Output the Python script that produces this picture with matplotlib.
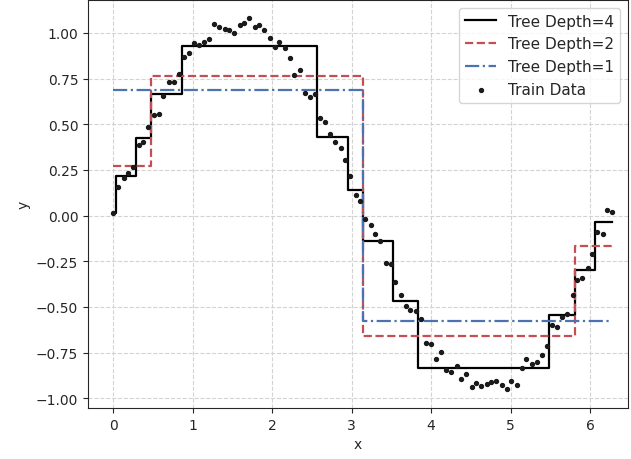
import numpy as np
import matplotlib
matplotlib.use('Agg')
import matplotlib.pyplot as plt

# train data (100 points over 0..2pi)
x_train = [0.00, 0.06, 0.13, 0.19, 0.25, 0.32, 0.38, 0.44, 0.51, 0.57,
           0.63, 0.70, 0.76, 0.83, 0.89, 0.95, 1.02, 1.08, 1.14, 1.21,
           1.27, 1.33, 1.40, 1.46, 1.52, 1.59, 1.65, 1.71, 1.78, 1.84,
           1.90, 1.97, 2.03, 2.09, 2.16, 2.22, 2.28, 2.35, 2.41, 2.48,
           2.54, 2.60, 2.67, 2.73, 2.79, 2.86, 2.92, 2.98, 3.05, 3.11,
           3.17, 3.24, 3.30, 3.36, 3.43, 3.49, 3.55, 3.62, 3.68, 3.74,
           3.81, 3.87, 3.93, 4.00, 4.06, 4.12, 4.19, 4.25, 4.32, 4.38,
           4.44, 4.51, 4.57, 4.63, 4.70, 4.76, 4.82, 4.89, 4.95, 5.01,
           5.08, 5.14, 5.20, 5.27, 5.33, 5.39, 5.46, 5.52, 5.58, 5.65,
           5.71, 5.78, 5.84, 5.90, 5.97, 6.03, 6.09, 6.16, 6.22, 6.28]

y_train = [0.013, 0.158, 0.208, 0.235, 0.268, 0.388, 0.404, 0.486, 0.550, 0.557,
           0.654, 0.729, 0.729, 0.774, 0.866, 0.889, 0.942, 0.933, 0.951, 0.969,
           1.049, 1.030, 1.024, 1.018, 1.000, 1.042, 1.053, 1.079, 1.030, 1.044,
           1.016, 0.971, 0.921, 0.951, 0.920, 0.860, 0.769, 0.798, 0.672, 0.649,
           0.663, 0.536, 0.514, 0.445, 0.404, 0.370, 0.304, 0.219, 0.115, 0.082,
           -0.018, -0.051, -0.098, -0.140, -0.260, -0.266, -0.362, -0.437, -0.497, -0.514,
           -0.521, -0.568, -0.696, -0.705, -0.783, -0.749, -0.847, -0.854, -0.821, -0.896,
           -0.867, -0.938, -0.914, -0.932, -0.920, -0.910, -0.903, -0.925, -0.951, -0.907,
           -0.925, -0.832, -0.787, -0.810, -0.801, -0.763, -0.714, -0.597, -0.608, -0.557,
           -0.536, -0.432, -0.355, -0.340, -0.286, -0.211, -0.091, -0.098, 0.033, 0.022]

# regression tree fits: split points and leaf values
depth4_splits = [0.03, 0.29, 0.48, 0.86, 2.57, 2.95, 3.14, 3.52, 3.84, 5.49, 5.81, 6.06]
depth4_values = [0.013, 0.217, 0.426, 0.665, 0.930, 0.429, 0.139, -0.139, -0.466,
                 -0.835, -0.546, -0.298, -0.034]
depth2_splits = [0.48, 3.14, 5.81]
depth2_values = [0.270, 0.764, -0.657, -0.166]
depth1_splits = [3.14]
depth1_values = [0.685, -0.579]

x_start, x_end = 0.0, 6.28


def step_xy(splits, values):
    xs = [x_start] + list(splits) + [x_end]
    ys = list(values) + [values[-1]]
    return xs, ys


plt.rcParams['font.family'] = ['DejaVu Sans']
dark = '#262626'

fig = plt.figure(figsize=(6.31, 4.60), dpi=100)
ax = fig.add_axes([88 / 631, 51 / 460, 540 / 631, 408 / 460])

xs, ys = step_xy(depth4_splits, depth4_values)
ax.step(xs, ys, where='post', color='k', lw=1.6, label='Tree Depth=4')
xs, ys = step_xy(depth2_splits, depth2_values)
ax.step(xs, ys, where='post', color='#C44E52', lw=1.6, ls='--', label='Tree Depth=2')
xs, ys = step_xy(depth1_splits, depth1_values)
ax.step(xs, ys, where='post', color='#4C72B0', lw=1.6, ls='-.', label='Tree Depth=1')
ax.scatter(x_train, y_train, s=8, color='#1a1a1a', label='Train Data', zorder=3)

ax.set_xlim(-0.318, 6.478)
ax.set_ylim(-1.053, 1.180)
ax.set_yticks([-1.0, -0.75, -0.5, -0.25, 0.0, 0.25, 0.5, 0.75, 1.0])
ax.grid(True, ls='--', color='#d3d3d3', lw=0.8)
ax.set_axisbelow(True)

for sp in ax.spines.values():
    sp.set_color(dark)
ax.tick_params(colors=dark, labelsize=10)
ax.set_xlabel('x', color=dark)
ax.set_ylabel('y', color=dark)

leg = ax.legend(loc='upper right', fontsize=11)
for t in leg.get_texts():
    t.set_color(dark)

fig.savefig('out.png', dpi=100)
